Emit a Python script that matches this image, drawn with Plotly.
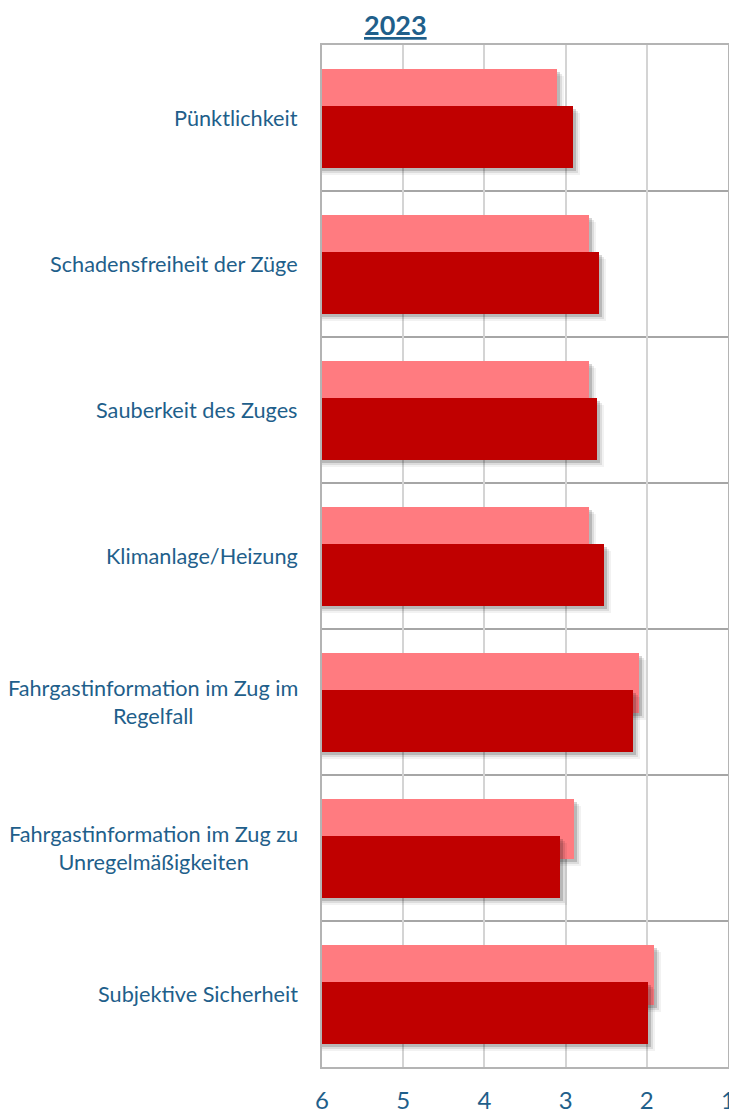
import plotly.graph_objects as go

categories = [
    "Pünktlichkeit",
    "Schadensfreiheit der Züge",
    "Sauberkeit des Zuges",
    "Klimanlage/Heizung",
    "Fahrgastinformation im Zug im<br>Regelfall",
    "Fahrgastinformation im Zug zu<br>Unregelmäßigkeiten",
    "Subjektive Sicherheit",
]
series_back = [3.10, 2.71, 2.71, 2.71, 2.10, 2.90, 1.91]   # light bars
series_front = [2.91, 2.59, 2.61, 2.53, 2.17, 3.07, 1.99]  # dark bars
tick_values = [6, 5, 4, 3, 2, 1]
title_text = "2023"

BASE = 6
TXT = "#1f5f8b"
FONT = "Lato, sans-serif"

pos = list(range(len(categories)))
W = 729
H = 1114
ML, MR, MT, MB = 322, 1, 45, 47
px_x = (W - ML - MR) / 5.0
px_y = (H - MT - MB) / len(categories)

fig = go.Figure()


def add_bar(vals, offset, width, color, dx=0.0, dy=0.0):
    fig.add_trace(go.Bar(
        orientation="h",
        y=pos,
        x=[(v - BASE) - dx / px_x for v in vals],
        base=BASE,
        offset=offset + dy / px_y,
        width=width,
        marker=dict(color=color, line=dict(width=0)),
        hoverinfo="skip",
        showlegend=False,
    ))


bw_back, bw_front = 0.41, 0.42
off_back = -0.13 - bw_back / 2
off_front = 0.13 - bw_front / 2

for vals, off, bw, col in [
    (series_back, off_back, bw_back, "#ff7b80"),
    (series_front, off_front, bw_front, "#c00000"),
]:
    add_bar(vals, off, bw, "rgba(0,0,0,0.05)", dx=7, dy=7)
    add_bar(vals, off, bw, "rgba(0,0,0,0.09)", dx=5, dy=5)
    add_bar(vals, off, bw, "rgba(0,0,0,0.16)", dx=3, dy=3)
    add_bar(vals, off, bw, col)

for i, c in enumerate(categories):
    fig.add_annotation(
        x=0, xref="paper", y=i, yref="y",
        xanchor="right", yanchor="middle", xshift=-22,
        text=c, showarrow=False, align="center",
        font=dict(family=FONT, size=21.7, color=TXT),
    )

fig.add_annotation(
    x=(395 - ML) / (W - ML - MR), xref="paper", y=1, yref="paper",
    text="<b><u>" + title_text + "</u></b>", showarrow=False,
    xanchor="center", yanchor="middle", yshift=21,
    font=dict(family=FONT, size=27, color=TXT),
)

fig.update_layout(
    width=W, height=H,
    autosize=False,
    margin=dict(l=ML, r=MR, t=MT, b=MB, autoexpand=False),
    paper_bgcolor="white", plot_bgcolor="white",
    barmode="overlay",
    bargap=0,
    xaxis=dict(
        range=[6, 1], tickmode="array", tickvals=tick_values,
        ticktext=[str(t) for t in tick_values],
        showgrid=True, gridcolor="#d4d4d4", gridwidth=1.5,
        showline=True, linecolor="#b4b4b4", linewidth=1.5, mirror=True,
        zeroline=False, ticks="", ticklabelstandoff=11,
        ticklabeloverflow="allow", automargin=False,
        tickfont=dict(family=FONT, size=24, color=TXT),
    ),
    yaxis=dict(
        range=[len(categories) - 0.5, -0.5],
        tickmode="array", tickvals=pos, ticktext=["" for _ in pos],
        showgrid=False, zeroline=False, automargin=False,
        showline=True, linecolor="#b4b4b4", linewidth=1.5, mirror=True,
        minor=dict(tickmode="array", tickvals=[i + 0.5 for i in pos[:-1]],
                   showgrid=True, gridcolor="#a6a6a6", gridwidth=1.5, ticks=""),
    ),
)

fig.write_html(
    "out.html",
    config={"displayModeBar": False},
    post_script="document.body.style.margin='0';document.body.style.overflow='hidden';",
)
